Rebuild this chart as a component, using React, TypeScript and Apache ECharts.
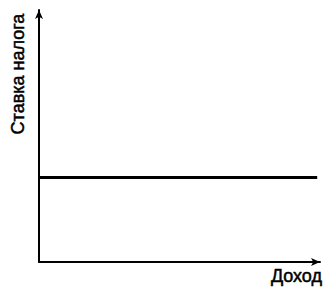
import React, { useEffect, useRef } from "react";
import * as echarts from "echarts";

const xLabel = "Доход";
const yLabel = "Ставка налога";
const incomeValues = [0, 99];
const taxRateValues = [33.5, 33.5];

export default function App() {
  const ref = useRef<HTMLDivElement>(null);
  useEffect(() => {
    if (!ref.current) return;
    const chart = echarts.init(ref.current, null, { renderer: "svg" });
    const data = incomeValues.map((x, i) => [x, taxRateValues[i]]);
    chart.setOption({
      animation: false,
      backgroundColor: "#fff",
      grid: { left: 39, right: 5, top: 10, bottom: 27, containLabel: false },
      xAxis: {
        type: "value",
        min: 0,
        max: 100,
        axisLine: {
          show: true,
          symbol: ["none", "arrow"],
          symbolSize: [6, 9],
          lineStyle: { color: "#000", width: 2 },
        },
        axisTick: { show: false },
        axisLabel: { show: false },
        splitLine: { show: false },
      },
      yAxis: {
        type: "value",
        min: 0,
        max: 100,
        axisLine: {
          show: true,
          symbol: ["none", "arrow"],
          symbolSize: [6, 9],
          lineStyle: { color: "#000", width: 2 },
        },
        axisTick: { show: false },
        axisLabel: { show: false },
        splitLine: { show: false },
      },
      series: [
        {
          type: "line",
          data,
          symbol: "none",
          lineStyle: { color: "#000", width: 3 },
        },
      ],
      graphic: [
        {
          type: "text",
          x: 18,
          y: 74,
          rotation: Math.PI / 2,
          style: {
            text: yLabel,
            fill: "#000",
            stroke: "#000",
            lineWidth: 0.5,
            font: "18px 'Liberation Sans', Arial, sans-serif",
            align: "center",
            verticalAlign: "middle",
          },
        },
        {
          type: "text",
          x: 322,
          y: 276,
          style: {
            text: xLabel,
            fill: "#000",
            stroke: "#000",
            lineWidth: 0.5,
            font: "18px 'Liberation Sans', Arial, sans-serif",
            align: "right",
            verticalAlign: "middle",
          },
        },
      ],
    });
    return () => chart.dispose();
  }, []);
  return <div ref={ref} style={{ width: 325, height: 289, position: "fixed", left: 0, top: 0 }} />;
}
